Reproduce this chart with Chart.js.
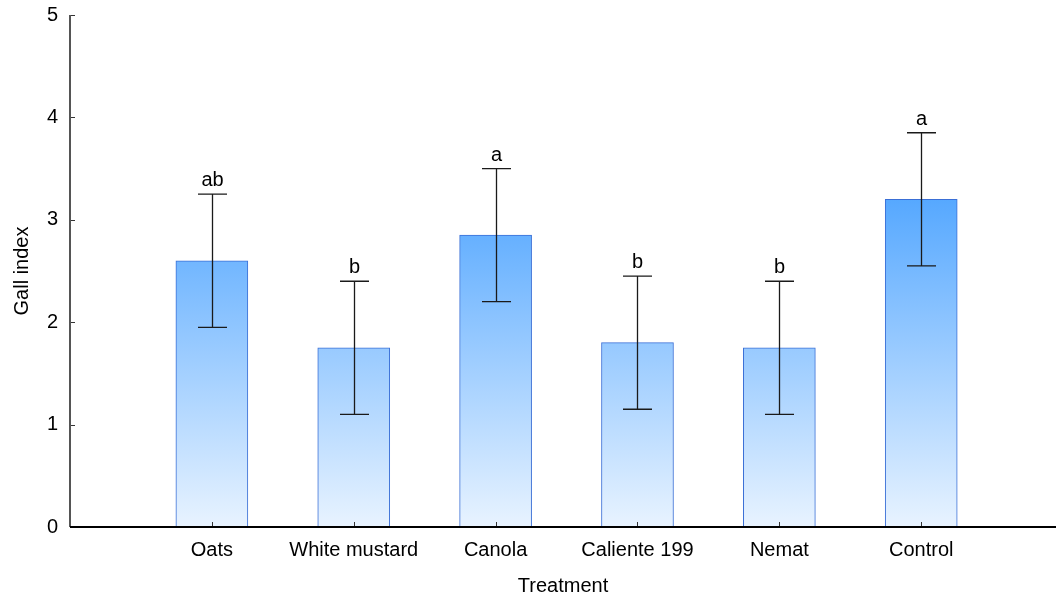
<!DOCTYPE html>
<html>
<head>
<meta charset="utf-8">
<script src="https://cdn.jsdelivr.net/npm/chart.js@4.4.0/dist/chart.umd.min.js"></script>
<style>
  html, body { margin:0; padding:0; background:#fff; }
  #wrap { width:1056px; height:599px; }
</style>
</head>
<body>
<div id="wrap"><canvas id="gallChart" width="1056" height="599"></canvas></div>
<script>
// chart values
var treatments = ['Oats', 'White mustard', 'Canola', 'Caliente 199', 'Nemat', 'Control'];
var gallMean = [2.6, 1.75, 2.85, 1.8, 1.75, 3.2];
var errLow = [1.95, 1.1, 2.2, 1.15, 1.1, 2.55];
var errHigh = [3.25, 2.4, 3.5, 2.45, 2.4, 3.85];
var groupLetters = ['ab', 'b', 'a', 'b', 'b', 'a'];
var yTicks = [0, 1, 2, 3, 4, 5];

var FONT = 'Liberation Sans, Arial, sans-serif';

var barPoints = new Array();
for(let i=0; i<treatments.length; i++) {
    barPoints.push({x: i+1, y: gallMean[i]});
}

// error bars, letters and inward tick marks
var extrasPlugin = {
    id: 'extras',
    afterDatasetsDraw: function(chart) {
        let ctx = chart.ctx;
        let xs = chart.scales.x;
        let ys = chart.scales.y;
        ctx.save();
        ctx.strokeStyle = '#1a1a1a';
        ctx.lineWidth = 1.3;
        for(let i=0; i<treatments.length; i++) {
            let px = Math.round(xs.getPixelForValue(i+1)) + 0.5;
            let top = ys.getPixelForValue(errHigh[i]);
            let bot = ys.getPixelForValue(errLow[i]);
            ctx.beginPath();
            ctx.moveTo(px, top); ctx.lineTo(px, bot);
            ctx.moveTo(px-14.5, top); ctx.lineTo(px+14.5, top);
            ctx.moveTo(px-14.5, bot); ctx.lineTo(px+14.5, bot);
            ctx.stroke();
            ctx.fillStyle = '#000';
            ctx.font = '20px ' + FONT;
            ctx.textAlign = 'center';
            ctx.textBaseline = 'alphabetic';
            ctx.fillText(groupLetters[i], px, top-8);
        }
        // tick marks pointing inward
        let area = chart.chartArea;
        ctx.strokeStyle = '#333';
        ctx.lineWidth = 1;
        for(let i=0; i<yTicks.length; i++) {
            let py = Math.round(ys.getPixelForValue(yTicks[i])) + 0.5;
            ctx.beginPath();
            ctx.moveTo(area.left, py); ctx.lineTo(area.left+5, py);
            ctx.stroke();
        }
        for(let i=0; i<treatments.length; i++) {
            let px = Math.round(xs.getPixelForValue(i+1)) + 0.5;
            ctx.beginPath();
            ctx.moveTo(px, area.bottom); ctx.lineTo(px, area.bottom-5);
            ctx.stroke();
        }
        // axis lines
        ctx.lineWidth = 2;
        ctx.strokeStyle = '#555';
        ctx.beginPath();
        ctx.moveTo(area.left, area.top); ctx.lineTo(area.left, area.bottom);
        ctx.stroke();
        ctx.strokeStyle = '#000';
        ctx.beginPath();
        ctx.moveTo(area.left, area.bottom); ctx.lineTo(area.right, area.bottom);
        ctx.stroke();
        ctx.restore();
    }
};

function barGradient(context) {
    let chart = context.chart;
    let area = chart.chartArea;
    if(!area) return '#8fc6ff';
    let ys = chart.scales.y;
    let g = chart.ctx.createLinearGradient(0, ys.getPixelForValue(5), 0, ys.getPixelForValue(0));
    g.addColorStop(0, 'rgb(4,126,255)');
    g.addColorStop(1, 'rgb(232,243,255)');
    return g;
}

var gallChart = new Chart(document.getElementById('gallChart'), {
    type: 'bar',
    plugins: [extrasPlugin],
    data: {
        datasets: [{
            label: 'Gall index',
            data: barPoints,
            backgroundColor: barGradient,
            borderColor: '#3a6fd6',
            borderWidth: 1,
            borderSkipped: 'bottom',
            barThickness: 72
        }]
    },
    options: {
        responsive: false,
        animation: false,
        layout: { padding: { top: 15, right: 0, left: 0, bottom: 0 } },
        plugins: {
            legend: { display: false },
            tooltip: { enabled: false }
        },
        scales: {
            x: {
                type: 'linear',
                offset: false,
                min: 0,
                max: 6.95,
                afterBuildTicks: function(axis) {
                    axis.ticks = treatments.map(function(t, i) { return {value: i+1}; });
                },
                afterFit: function(axis) {
                    axis.height = 72;
                    axis.paddingLeft = 0;
                    axis.paddingRight = 0;
                },
                ticks: {
                    autoSkip: false,
                    maxRotation: 0,
                    color: '#000',
                    font: { family: FONT, size: 20 },
                    padding: 11,
                    callback: function(v) { return treatments[v-1]; }
                },
                grid: { display: false, drawTicks: false, offset: false },
                border: { display: false },
                title: {
                    display: true,
                    text: 'Treatment',
                    color: '#000',
                    font: { family: FONT, size: 20 },
                    padding: { top: 0, bottom: 1 }
                }
            },
            y: {
                min: 0,
                max: 5,
                afterBuildTicks: function(axis) {
                    axis.ticks = yTicks.map(function(v) { return {value: v}; });
                },
                afterFit: function(axis) {
                    axis.width = 70;
                    axis.paddingTop = 0;
                    axis.paddingBottom = 0;
                },
                ticks: {
                    color: '#000',
                    font: { family: FONT, size: 20 },
                    padding: 12
                },
                grid: { display: false, drawTicks: false },
                border: { display: false },
                title: {
                    display: true,
                    text: 'Gall index',
                    color: '#000',
                    font: { family: FONT, size: 20 },
                    padding: { top: 10, bottom: 0 }
                }
            }
        }
    }
});
</script>
</body>
</html>
